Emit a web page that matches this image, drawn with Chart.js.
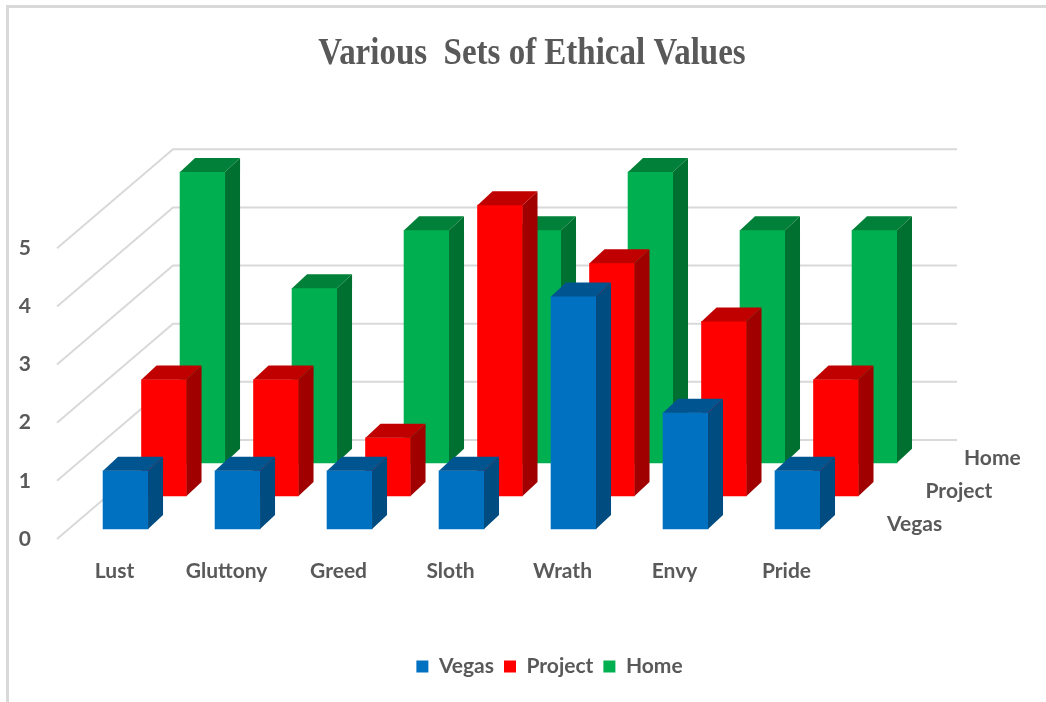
<!DOCTYPE html>
<html>
<head>
<meta charset="utf-8">
<style>
  html, body { margin: 0; padding: 0; background: #fff; overflow: hidden; }
  #wrap { position: relative; width: 1046px; height: 702px; }
  #frame { position: absolute; left: 6px; top: 5px; right: 0; bottom: 0; border-left: 3px solid #d9d9d9; border-top: 3px solid #d9d9d9; }
  canvas { position: absolute; left: 0; top: 0; }
</style>
<script src="https://cdn.jsdelivr.net/npm/chart.js@4/dist/chart.umd.min.js"></script>
</head>
<body>
<div id="wrap">
  <div id="frame"></div>
  <canvas id="chart" width="1046" height="702"></canvas>
</div>
<script>
// values
const categories = ["Lust", "Gluttony", "Greed", "Sloth", "Wrath", "Envy", "Pride"];
const seriesNames = ["Vegas", "Project", "Home"];
const vegasValues = [1, 1, 1, 1, 4, 2, 1];
const projectValues = [2, 2, 1, 5, 4, 3, 2];
const homeValues = [5, 3, 4, 4, 5, 4, 4];
const yTicks = [0, 1, 2, 3, 4, 5];

const frontColors = ["#0070c0", "#ff0000", "#00b050"];
const sideColors = ["#004b80", "#a00000", "#007030"];
const topColors = ["#005591", "#c00000", "#008038"];

const labelFont = { family: "Lato, sans-serif", size: 21, weight: "bold" };
const textColor = "#595959";

// fake 3D: each series sits further back on the same two scales
const rowStepX = 38.5 / 112;
const rowStepY = 33 / 58;
const rowBaseY = 10 / 58;
const barDepthX = 15;
const barDepthY = 14;
const wallX = 116;
const wallY = 99;

// the title in the picture is squeezed sideways and both blocks sit right of centre
const titleCenter = 532;
const titleSqueeze = 0.868;
const legendShift = 71;

function rowData(values, row) {
  return values.map((v, i) => {
    const base = rowBaseY + row * rowStepY;
    return { x: i + row * rowStepX, y: [base, base + v] };
  });
}

const depth3d = {
  id: "depth3d",
  afterLayout(chart) {
    chart.legend.left += legendShift;
    chart.legend.right += legendShift;
    const title = chart.titleBlock;
    if (!title._squeezed) {
      const draw = title.draw;
      title.draw = function () {
        const ctx = chart.ctx;
        ctx.save();
        ctx.translate(titleCenter, 0);
        ctx.scale(titleSqueeze, 1);
        ctx.translate(-(title.left + title.right) / 2, 0);
        draw.call(title);
        ctx.restore();
      };
      title._squeezed = true;
    }
  },
  beforeDatasetsDraw(chart) {
    const { ctx, chartArea, scales } = chart;
    ctx.save();
    ctx.strokeStyle = "#d9d9d9";
    ctx.lineWidth = 2;
    yTicks.forEach(v => {
      const py = scales.y.getPixelForValue(v);
      ctx.beginPath();
      ctx.moveTo(chartArea.left, py);
      ctx.lineTo(chartArea.left + wallX, py - wallY);
      ctx.lineTo(chartArea.right, py - wallY);
      ctx.stroke();
    });
    ctx.restore();
  },
  afterDatasetDraw(chart, args) {
    const { ctx } = chart;
    const row = args.index;
    ctx.save();
    args.meta.data.forEach(bar => {
      const l = bar.x - bar.width / 2;
      const r = bar.x + bar.width / 2;
      ctx.fillStyle = sideColors[row];
      ctx.beginPath();
      ctx.moveTo(r, bar.y);
      ctx.lineTo(r + barDepthX, bar.y - barDepthY);
      ctx.lineTo(r + barDepthX, bar.base - barDepthY);
      ctx.lineTo(r, bar.base);
      ctx.closePath();
      ctx.fill();
      ctx.fillStyle = topColors[row];
      ctx.beginPath();
      ctx.moveTo(l, bar.y);
      ctx.lineTo(l + barDepthX, bar.y - barDepthY);
      ctx.lineTo(r + barDepthX, bar.y - barDepthY);
      ctx.lineTo(r, bar.y);
      ctx.closePath();
      ctx.fill();
    });
    // series name at the end of its row
    const last = args.meta.data[args.meta.data.length - 1];
    ctx.fillStyle = textColor;
    ctx.font = `${labelFont.weight} ${labelFont.size}px ${labelFont.family}`;
    ctx.textAlign = "left";
    ctx.textBaseline = "middle";
    ctx.fillText(seriesNames[row], last.x + last.width / 2 + 67, last.base - 5);
    ctx.restore();
  }
};

new Chart(document.getElementById("chart"), {
  type: "bar",
  data: {
    datasets: [
      { label: seriesNames[0], data: rowData(vegasValues, 0), backgroundColor: frontColors[0] },
      { label: seriesNames[1], data: rowData(projectValues, 1), backgroundColor: frontColors[1] },
      { label: seriesNames[2], data: rowData(homeValues, 2), backgroundColor: frontColors[2] }
    ]
  },
  options: {
    responsive: false,
    animation: false,
    layout: { padding: { top: 0, left: 0, right: 89, bottom: 15 } },
    datasets: { bar: { grouped: false, barThickness: 45, borderWidth: 0 } },
    plugins: {
      title: {
        display: true,
        text: "Various  Sets of Ethical Values",
        color: textColor,
        font: { family: "'Liberation Serif', serif", size: 38, weight: "bold" },
        padding: { top: 31, bottom: 73.4 }
      },
      legend: {
        position: "bottom",
        labels: { boxWidth: 12, boxHeight: 12, padding: 10, color: textColor, font: labelFont }
      },
      tooltip: { enabled: false }
    },
    scales: {
      x: {
        type: "linear",
        offset: false,
        min: -0.612,
        max: 7.424,
        grid: { display: false },
        border: { display: false },
        afterBuildTicks: axis => { axis.ticks = categories.map((c, i) => ({ value: i })); },
        afterFit: axis => { axis.height = 107; },
        ticks: {
          color: textColor,
          font: labelFont,
          padding: 12,
          labelOffset: -11,
          maxRotation: 0,
          autoSkip: false,
          callback: v => categories[v]
        }
      },
      y: {
        min: 0,
        max: 388 / 58,
        grid: { display: false },
        border: { display: false },
        afterBuildTicks: axis => { axis.ticks = yTicks.map(v => ({ value: v })); },
        afterFit: axis => { axis.width = 57; },
        ticks: { color: textColor, font: labelFont, padding: 18 }
      }
    }
  },
  plugins: [depth3d]
});
</script>
</body>
</html>
